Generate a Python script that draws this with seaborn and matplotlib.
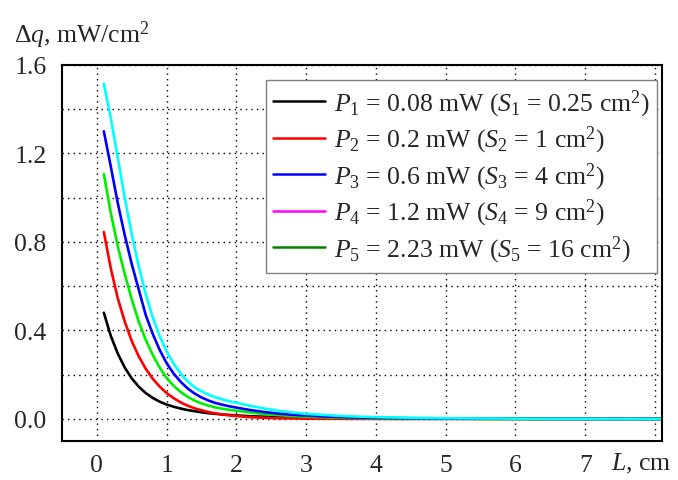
import numpy as np
import pandas as pd
import matplotlib
matplotlib.use("Agg")
import matplotlib.pyplot as plt
from matplotlib.lines import Line2D
from matplotlib.ticker import MultipleLocator, FormatStrFormatter
import seaborn as sns

# значения
L = [0.1, 0.2, 0.3, 0.4, 0.5, 0.6, 0.7, 0.8, 0.9, 1.0,
     1.1, 1.2, 1.3, 1.4, 1.5, 1.6, 1.7, 1.8, 1.9, 2.0,
     2.2, 2.4, 2.6, 2.8, 3.0, 3.5, 4.0, 4.5, 5.0, 6.0, 7.0, 8.1]
dq_black = [0.48, 0.375, 0.295, 0.232, 0.183, 0.146, 0.117, 0.095, 0.078, 0.065,
            0.055, 0.047, 0.040, 0.035, 0.030, 0.026, 0.023, 0.020, 0.018, 0.016,
            0.012, 0.010, 0.008, 0.006, 0.005, 0.003, 0.002, 0.001, 0.001, 0.0, 0.0, 0.0]
dq_red = [0.845, 0.68, 0.545, 0.44, 0.352, 0.283, 0.227, 0.182, 0.146, 0.117,
          0.094, 0.075, 0.060, 0.048, 0.039, 0.031, 0.025, 0.020, 0.016, 0.013,
          0.008, 0.005, 0.003, 0.002, 0.001, 0.0005, 0.0, 0.0, 0.0, 0.0, 0.0, 0.0]
dq_lime = [1.107, 0.93, 0.78, 0.655, 0.54, 0.44, 0.358, 0.29, 0.232, 0.185,
           0.150, 0.122, 0.100, 0.083, 0.070, 0.060, 0.052, 0.046, 0.041, 0.037,
           0.029, 0.022, 0.017, 0.013, 0.010, 0.005, 0.003, 0.002, 0.001, 0.0, 0.0, 0.0]
dq_blue = [1.30, 1.14, 0.975, 0.83, 0.70, 0.585, 0.47, 0.385, 0.312, 0.252,
           0.205, 0.168, 0.138, 0.115, 0.097, 0.083, 0.072, 0.064, 0.057, 0.051,
           0.040, 0.031, 0.024, 0.019, 0.015, 0.008, 0.005, 0.003, 0.002, 0.001, 0.0, 0.0]
dq_cyan = [1.515, 1.36, 1.18, 1.0, 0.835, 0.69, 0.565, 0.46, 0.375, 0.305,
           0.25, 0.205, 0.17, 0.143, 0.125, 0.11, 0.098, 0.088, 0.080, 0.073,
           0.059, 0.047, 0.037, 0.029, 0.023, 0.013, 0.008, 0.005, 0.003, 0.001, 0.0, 0.0]

legend_labels = [
    r"$P_1$ = 0.08 mW ($S_1$ = 0.25 cm$^2$)",
    r"$P_2$ = 0.2 mW ($S_2$ = 1 cm$^2$)",
    r"$P_3$ = 0.6 mW ($S_3$ = 4 cm$^2$)",
    r"$P_4$ = 1.2 mW ($S_4$ = 9 cm$^2$)",
    r"$P_5$ = 2.23 mW ($S_5$ = 16 cm$^2$)",
]
legend_colors = ["black", "red", "blue", "magenta", "green"]

sns.set_style("white")
plt.rcParams["font.family"] = ["Liberation Serif", "DejaVu Serif"]
plt.rcParams["mathtext.fontset"] = "custom"
plt.rcParams["mathtext.rm"] = "Liberation Serif"
plt.rcParams["mathtext.it"] = "Liberation Serif:italic"

curves = [("black", dq_black), ("red", dq_red), ("#00ee00", dq_lime),
          ("blue", dq_blue), ("cyan", dq_cyan)]

fig = plt.figure(figsize=(6.78, 4.81), dpi=100)
ax = fig.add_axes([0.0914, 0.081, 0.885, 0.782])

for color, vals in curves:
    df = pd.DataFrame({"L": L, "dq": vals})
    sns.lineplot(data=df, x="L", y="dq", color=color, linewidth=1.9, ax=ax)

ax.set_xlim(-0.5, 8.1)
ax.set_ylim(-0.1, 1.6)
ax.yaxis.set_major_locator(MultipleLocator(0.4))
ax.yaxis.set_minor_locator(MultipleLocator(0.2))
ax.yaxis.set_major_formatter(FormatStrFormatter("%.1f"))
ax.set_xticks(range(0, 9))
ax.set_xticklabels([str(i) for i in range(0, 8)] + [""])
ax.tick_params(which="both", length=0, labelsize=18.5)
ax.tick_params(axis="x", pad=9)
ax.tick_params(axis="y", pad=11)
ax.grid(True, which="both", color="black", linestyle=(0, (1, 3)), linewidth=1.0)
ax.set_xlabel("")
ax.set_ylabel("")
for s in ax.spines.values():
    s.set_color("black")
    s.set_linewidth(1.5)

fig.text(0.02, 0.91, r"$\Delta q$, mW/cm$^2$", fontsize=18.5, ha="left", va="baseline")
fig.text(0.99, 0.022, r"$L$, cm", fontsize=18.5, ha="right", va="baseline")

handles = [Line2D([0], [0], color=c, linewidth=1.8) for c in legend_colors]
leg = ax.legend(handles, legend_labels, loc="upper right", bbox_to_anchor=(0.992, 0.96),
                fontsize=18.5, frameon=True, fancybox=False, handlelength=2.0,
                handletextpad=0.35, labelspacing=0.2, borderpad=0.3, borderaxespad=0)
leg.get_frame().set_edgecolor("gray")
leg.get_frame().set_linewidth(1.0)
leg.get_frame().set_alpha(1)

fig.savefig("out.png", dpi=100)
